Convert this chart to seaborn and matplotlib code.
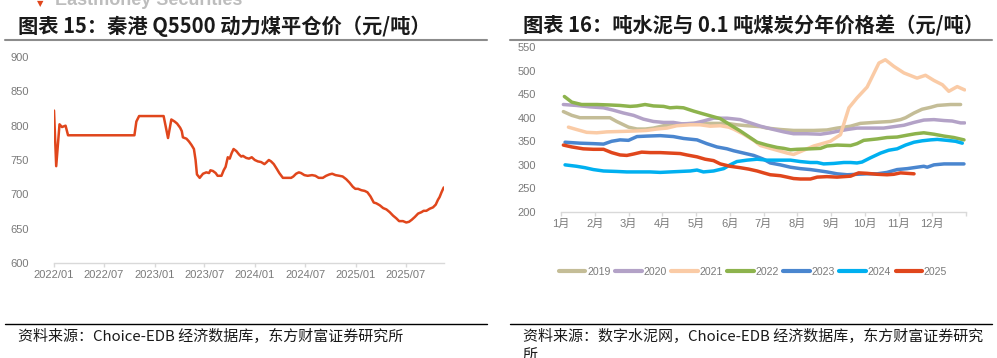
import matplotlib
matplotlib.use("Agg")
import matplotlib.pyplot as plt
import matplotlib.dates as mdates
from matplotlib.lines import Line2D
from matplotlib import font_manager
import seaborn as sns
import pandas as pd

sns.set_theme(style="white")
plt.rcParams['font.family'] = ['Noto Sans CJK SC', 'DejaVu Sans']
plt.rcParams['axes.unicode_minus'] = False

_names = {f.name for f in font_manager.fontManager.ttflist}
TICK_FAM = 'Liberation Sans Narrow' if 'Liberation Sans Narrow' in _names else 'Liberation Sans'

# ---------------- left chart data: 秦港 Q5500 动力煤平仓价 ----------------
coal_dates = ["2022-01-01","2022-01-09","2022-01-21","2022-01-30","2022-02-12","2022-02-21","2022-10-20","2022-10-27","2022-11-06",
              "2023-02-03","2023-02-19","2023-03-03","2023-03-15","2023-03-24","2023-04-04","2023-04-10","2023-04-14","2023-04-27","2023-05-06",
              "2023-05-15","2023-05-24","2023-05-30","2023-06-04","2023-06-14","2023-06-26","2023-07-08","2023-07-18","2023-07-23","2023-08-01",
              "2023-08-11","2023-08-18","2023-09-01","2023-09-09","2023-09-16","2023-09-24","2023-10-01","2023-10-08","2023-10-15","2023-10-25",
              "2023-11-04","2023-11-12","2023-11-18","2023-11-30","2023-12-10","2023-12-20","2023-12-31",
              "2024-01-11","2024-01-23","2024-02-04","2024-02-10","2024-02-20","2024-02-28","2024-03-09","2024-03-20","2024-03-29","2024-04-11",
              "2024-04-23","2024-05-11","2024-05-19","2024-05-29","2024-06-08","2024-06-16","2024-06-28","2024-07-10","2024-07-26","2024-08-07",
              "2024-08-19","2024-09-03","2024-09-15","2024-09-27","2024-10-07","2024-10-19","2024-11-02","2024-11-14","2024-11-27","2024-12-09",
              "2024-12-21","2024-12-30",
              "2025-01-09","2025-01-21","2025-02-02","2025-02-12","2025-02-23","2025-03-07","2025-03-16","2025-03-29","2025-04-10","2025-04-22",
              "2025-05-04","2025-05-16","2025-05-28","2025-06-07","2025-06-21","2025-07-03","2025-07-13","2025-07-23","2025-08-03","2025-08-15",
              "2025-08-27","2025-09-04","2025-09-14","2025-09-26","2025-10-08","2025-10-18","2025-10-26","2025-11-01","2025-11-08","2025-11-16"]
coal_price = [822,741,802,798,800,786,786,806,814,
              814,782,809,806,803,797,792,783,781,777,772,766,750,729,724,730,732,731,735,734,731,727,727,735,740,754,752,760,766,763,758,755,756,753,752,754,750,
              748,747,744,746,750,748,744,737,731,724,724,724,726,730,732,731,728,727,728,727,724,724,727,729,730,728,727,726,722,717,711,708,
              708,706,705,703,697,688,687,684,680,678,674,669,665,661,661,659,660,663,667,672,674,676,676,679,681,685,692,696,703,710]
coal_ticks = ["2022-01-01","2022-07-01","2023-01-01","2023-07-01","2024-01-01","2024-07-01","2025-01-01","2025-07-01"]
coal_tick_labels = ["2022/01","2022/07","2023/01","2023/07","2024/01","2024/07","2025/01","2025/07"]
coal_yticks = [600, 650, 700, 750, 800, 850, 900]

# ---------------- right chart data: 吨水泥与0.1吨煤炭价格差 (x = month index, 0 = 1月) ----------------
m_2019 = [0.07,0.32,0.56,1.01,1.45,1.65,2.00,2.25,2.50,2.74,3.04,3.43,3.93,4.32,4.92,5.21,5.51,5.91,6.10,6.50,6.89,7.49,7.88,8.18,8.58,8.87,9.27,9.76,10.06,10.21,10.46,10.70,10.95,11.15,11.54,11.84]
v_2019 = [413,405,400,400,400,392,380,376,376,378,383,386,388,388,388,385,383,381,378,375,373,373,374,378,382,388,390,392,396,400,410,418,422,426,428,428]
m_2020 = [0.07,0.46,0.86,1.26,1.55,1.85,2.15,2.44,2.74,3.04,3.33,3.58,3.93,4.22,4.52,4.92,5.31,5.61,5.91,6.30,6.60,6.89,7.29,7.69,7.98,8.18,8.48,8.77,9.17,9.56,9.86,10.16,10.46,10.75,11.05,11.35,11.59,11.84,11.96]
v_2020 = [428,426,423,421,416,410,405,397,392,390,390,387,388,393,399,399,396,389,382,375,370,366,366,365,368,371,375,378,378,378,381,384,390,395,396,394,393,389,389]
m_2021 = [0.22,0.46,0.76,1.06,1.36,1.85,2.25,2.54,2.84,3.14,3.43,3.83,4.12,4.42,4.72,4.97,5.11,5.41,5.71,5.91,6.30,6.70,6.89,7.09,7.49,7.69,7.98,8.28,8.53,8.77,9.07,9.42,9.61,9.86,10.16,10.55,10.80,11.05,11.30,11.49,11.74,11.96]
v_2021 = [380,375,369,368,370,371,372,373,376,378,383,385,385,382,383,380,376,365,352,341,333,325,322,328,340,344,350,364,421,442,465,516,523,509,495,484,490,479,470,456,466,459]
m_2022 = [0.10,0.32,0.61,1.06,1.45,1.75,2.05,2.25,2.49,2.74,3.04,3.23,3.43,3.63,3.93,4.22,4.52,4.72,5.01,5.31,5.56,5.81,6.10,6.40,6.60,6.80,6.99,7.39,7.69,7.88,8.18,8.58,8.77,8.97,9.37,9.66,9.96,10.26,10.50,10.75,11.05,11.35,11.64,11.94]
v_2022 = [445,433,428,428,427,426,424,425,428,425,424,421,422,421,414,408,402,398,385,372,360,348,342,337,335,332,333,334,335,340,342,341,345,352,355,358,359,363,366,368,365,361,358,353]
m_2023 = [0.12,0.56,0.96,1.26,1.50,1.75,2.00,2.25,2.54,2.94,3.33,3.63,4.03,4.32,4.62,4.92,5.11,5.41,5.71,6.00,6.20,6.50,6.80,7.09,7.39,7.69,7.88,8.18,8.48,8.77,9.07,9.37,9.66,9.96,10.26,10.55,10.75,10.85,11.05,11.35,11.64,11.94]
v_2023 = [348,346,345,344,350,353,352,360,361,362,360,356,353,345,338,334,330,325,320,312,304,300,295,292,290,287,285,281,279,280,281,281,284,290,292,295,297,295,300,302,302,302]
m_2024 = [0.12,0.46,0.71,0.96,1.26,1.65,1.95,2.34,2.64,2.94,3.23,3.53,3.83,4.03,4.22,4.52,4.82,5.01,5.21,5.51,5.81,6.10,6.40,6.80,7.09,7.39,7.59,7.78,8.08,8.38,8.58,8.77,8.92,9.17,9.47,9.71,9.96,10.21,10.46,10.70,10.95,11.15,11.44,11.69,11.89]
v_2024 = [300,297,294,290,287,286,285,285,285,284,285,286,287,289,285,287,292,300,307,310,312,310,310,310,307,305,305,302,303,305,305,304,306,315,325,331,334,342,348,351,353,354,352,350,346]
m_2025 = [0.07,0.32,0.66,0.96,1.26,1.50,1.75,1.95,2.15,2.39,2.64,2.94,3.23,3.53,3.73,4.03,4.27,4.52,4.72,5.01,5.31,5.56,5.81,6.00,6.20,6.50,6.70,6.89,7.09,7.39,7.59,7.88,8.18,8.58,8.82,9.07,9.37,9.66,9.86,10.06,10.26,10.46]
v_2025 = [342,338,334,333,333,326,321,320,323,327,326,326,325,324,321,317,312,309,302,297,294,291,287,283,279,277,274,271,270,270,274,275,274,276,283,282,280,279,280,283,282,281]
gap_years = ["2019","2020","2021","2022","2023","2024","2025"]
gap_colors = ["#C4BD97","#B3A2C7","#FACBA6","#8DB34D","#4A86CF","#00B0F0","#E0461C"]
month_labels = ["1月","2月","3月","4月","5月","6月","7月","8月","9月","10月","11月","12月"]
gap_yticks = [200, 250, 300, 350, 400, 450, 500, 550]

series_m = [m_2019, m_2020, m_2021, m_2022, m_2023, m_2024, m_2025]
series_v = [v_2019, v_2020, v_2021, v_2022, v_2023, v_2024, v_2025]
gap_df = pd.concat([pd.DataFrame({"month": m, "gap": v, "year": y})
                    for m, v, y in zip(series_m, series_v, gap_years)], ignore_index=True)

coal_df = pd.DataFrame({"date": pd.to_datetime(coal_dates), "price": coal_price})

# ---------------- figure ----------------
W, H = 997, 358
fig = plt.figure(figsize=(W / 100, H / 100), dpi=100)

def fx(px): return px / W
def fy(py): return 1 - py / H

TICK_C = "#7a7a7a"
AX_C = "#d9d9d9"

# left axes
axL = fig.add_axes([fx(54), fy(263), fx(444) - fx(54), fy(57) - fy(263)])
sns.lineplot(data=coal_df, x="date", y="price", ax=axL, color="#E0461C", linewidth=1.8, estimator=None)
axL.set_xlim(pd.Timestamp("2022-01-01"), pd.Timestamp("2025-11-17"))
axL.set_ylim(600, 900)
axL.set_xticks(pd.to_datetime(coal_ticks))
axL.set_xticklabels(coal_tick_labels)
axL.set_yticks(coal_yticks)
axL.set_yticklabels([str(t) for t in coal_yticks])

# right axes
axR = fig.add_axes([fx(561), fy(212), fx(966) - fx(561), fy(47) - fy(212)])
sns.lineplot(data=gap_df, x="month", y="gap", hue="year", hue_order=gap_years,
             palette=dict(zip(gap_years, gap_colors)), ax=axR, linewidth=2.5,
             estimator=None, sort=True, legend=False)
axR.set_xlim(0, 12)
axR.set_ylim(200, 550)
axR.set_xticks(list(range(13)))
axR.set_xticklabels(month_labels + [""])
axR.set_yticks(gap_yticks)
axR.set_yticklabels([str(t) for t in gap_yticks])

for ax in (axL, axR):
    ax.set_xlabel("")
    ax.set_ylabel("")
    for s in ("top", "right", "left"):
        ax.spines[s].set_visible(False)
    ax.spines["bottom"].set_color(AX_C)
    ax.spines["bottom"].set_linewidth(1.0)
    ax.tick_params(axis="x", which="both", bottom=True, length=3, width=1, color=AX_C,
                   direction="out", pad=2, labelcolor=TICK_C)
    ax.tick_params(axis="y", which="both", left=False, pad=12, labelcolor=TICK_C)
    ax.set_facecolor("none")
    for lab in ax.get_xticklabels() + ax.get_yticklabels():
        lab.set_family([TICK_FAM, 'Noto Sans CJK SC', 'DejaVu Sans'])
        lab.set_fontsize(8)

# legend
handles = [Line2D([0], [0], color=c, lw=3) for c in gap_colors]
leg = fig.legend(handles, gap_years, loc="center", bbox_to_anchor=(fx(753), fy(272)),
                 ncol=7, frameon=False, handlelength=2.5, handletextpad=0.15,
                 columnspacing=0.45, prop={"family": TICK_FAM, "size": 7.6})
for t in leg.get_texts():
    t.set_color(TICK_C)

# titles
fig.text(fx(18), fy(26), "图表 15：秦港 Q5500 动力煤平仓价（元/吨）", fontsize=14.6,
         fontweight="bold", ha="left", va="center", color="#1a1a1a",
         family=['Noto Sans CJK SC', 'DejaVu Sans'])
fig.text(fx(523), fy(26), "图表 16：吨水泥与 0.1 吨煤炭分年价格差（元/吨）", fontsize=14.6,
         fontweight="bold", ha="left", va="center", color="#1a1a1a",
         family=['Noto Sans CJK SC', 'DejaVu Sans'])

# watermark (cut at top, as in the reference)
fig.text(fx(55), fy(5), "Eastmoney Securities", fontsize=13, fontweight="bold",
         ha="left", va="baseline", color="#bdbdbd", family=['Liberation Sans', 'DejaVu Sans'])
fig.text(fx(40), fy(6), "▼", fontsize=6, ha="center", va="baseline", color="#E0461C",
         family=['DejaVu Sans'])

# rules
for x0, x1 in ((5, 487), (510, 992)):
    fig.add_artist(Line2D([fx(x0), fx(x1)], [fy(40), fy(40)], transform=fig.transFigure,
                          color="#8c8c8c", lw=1.5))
    fig.add_artist(Line2D([fx(x0), fx(x1)], [fy(324), fy(324)], transform=fig.transFigure,
                          color="#000000", lw=1.0))

# sources
fig.text(fx(18), fy(336), "资料来源：Choice-EDB 经济数据库，东方财富证券研究所", fontsize=10.8,
         ha="left", va="center", color="#1a1a1a", family=['Noto Sans CJK SC', 'DejaVu Sans'])
fig.text(fx(523), fy(336), "资料来源：数字水泥网，Choice-EDB 经济数据库，东方财富证券研究", fontsize=10.8,
         ha="left", va="center", color="#1a1a1a", family=['Noto Sans CJK SC', 'DejaVu Sans'])
fig.text(fx(523), fy(356), "所", fontsize=10.8,
         ha="left", va="center", color="#1a1a1a", family=['Noto Sans CJK SC', 'DejaVu Sans'])

fig.savefig("out.png", dpi=100)
